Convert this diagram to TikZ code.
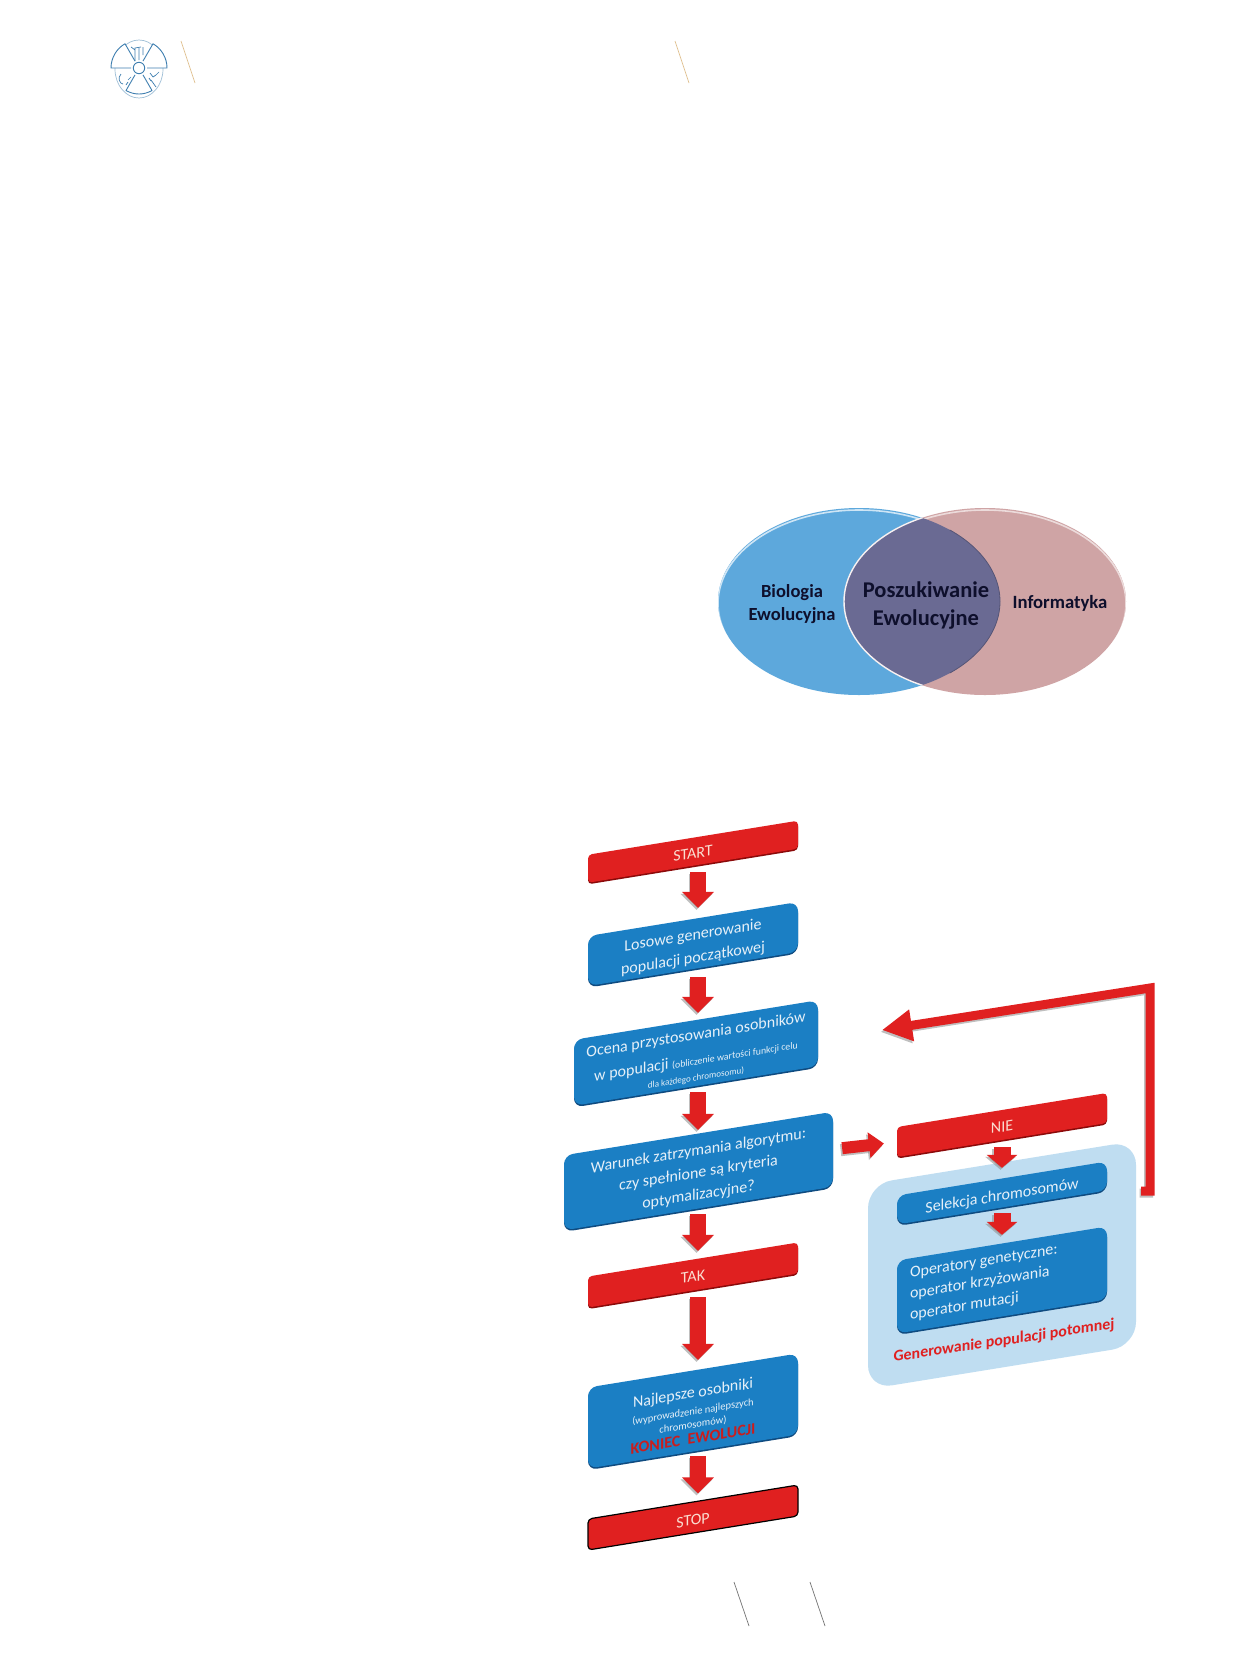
\documentclass[tikz,border=0pt]{standalone}
\usepackage{fontspec}
\setmainfont{Carlito}
\usetikzlibrary{shapes.geometric,arrows.meta,shadows,calc}
\definecolor{bluebox}{HTML}{1B7FC4}
\definecolor{blueedge}{HTML}{0F4B80}
\definecolor{redbox}{HTML}{E02020}
\definecolor{rededge}{HTML}{8B0A0A}
\definecolor{paletxt}{HTML}{E6F0F8}
\definecolor{pinktxt}{HTML}{FADCD0}
\definecolor{lightbox}{HTML}{BFDDF1}
\definecolor{venna}{HTML}{5DA8DC}
\definecolor{vennb}{HTML}{CFA4A5}
\definecolor{vennc}{HTML}{6A6A93}
\definecolor{venntxt}{HTML}{0E0F2C}
\definecolor{logoblue}{HTML}{3F7FB0}
\definecolor{tanline}{HTML}{E0C090}
\newcommand{\fs}[2]{\fontsize{#1}{#2}\selectfont}
\newcommand{\dn}[1]{\rule{0pt}{#1pt}}
\tikzset{
  flowbox/.style={rectangle,yslant=0.162,transform shape,inner sep=0pt,align=center,minimum width=#1},
  bluenode/.style={flowbox=#1,rounded corners=9pt,fill=bluebox,text=paletxt,
     general shadow={shadow xshift=0pt,shadow yshift=-1.6pt,fill=blueedge,rounded corners=9pt}},
  rednode/.style={flowbox=#1,rounded corners=4pt,fill=redbox,text=pinktxt,font=\fs{16}{18},
     general shadow={shadow xshift=0pt,shadow yshift=-1.6pt,fill=rededge,rounded corners=4pt}},
  blockshadow/.style={draw=black!45,opacity=.55,line width=#1,transform canvas={xshift=-1.5pt,yshift=-2pt}},
  blockmain/.style={draw=redbox,line width=#1},
  vennlabel/.style={inner sep=0pt,align=center,text=venntxt,font=\bfseries},
  logoline/.style={draw=logoblue,line width=.9pt},
  deco/.style={line width=.7pt}
}
% vertical block arrow along an axis coordinate: from, to, axis, shorten start, shorten end, shaft, head width, head length
\newcommand{\vblock}[8]{%
  \draw[blockshadow=#6,shorten <=#4pt,shorten >=#5pt,-{Triangle[width=#7pt,length=#8pt]}] (#1.south -| #3) -- (#2.north -| #3);
  \draw[blockmain=#6,shorten <=#4pt,shorten >=#5pt,-{Triangle[width=#7pt,length=#8pt]}] (#1.south -| #3) -- (#2.north -| #3);
}
\begin{document}
\begin{tikzpicture}[x=1pt,y=-1pt]
\useasboundingbox (0,0) rectangle (1254,1673);
\fill[white] (0,0) rectangle (1254,1673);

% header logo
\coordinate (logoc) at (139,68);
\draw[logoblue!50,line width=.7pt] (139,69) ellipse [x radius=24pt,y radius=29pt];
\foreach \a/\b/\r in {0/60/28,120/180/28,240/300/26}{
  \draw[logoline,fill=white,line join=round] ($(logoc)+(\a:8pt)$) -- ($(logoc)+(\a:\r pt)$) arc[start angle=\a,end angle=\b,radius=\r pt] -- ($(logoc)+(\b:8pt)$);
}
\draw[logoline,fill=white] (logoc) circle[radius=5.7pt];
\draw[logoblue,line width=.7pt] (135,61) -- (135,48) -- (141,47) (139,48) -- (139,60) (143,47) -- (143,55) (131,47) -- (135,50);
\draw[logoblue,line width=.7pt] (121,74) .. controls (117,78) and (120,84) .. (123,84) (128,80) -- (131,77) (126,85) -- (128,82);
\draw[logoblue,line width=.7pt] (150,73) -- (153,77) -- (156,75) -- (159,72) (151,80) -- (156,87) (149,78) -- (151,81);

% decorative slashes
\coordinate (s1a) at (181,41); \coordinate (s1b) at (195,83);
\coordinate (s2a) at (675,41); \coordinate (s2b) at (689,83);
\coordinate (s3a) at (734,1582); \coordinate (s3b) at (749,1626);
\coordinate (s4a) at (810,1582); \coordinate (s4b) at (825,1626);
\draw[deco,tanline] (s1a) -- (s1b);
\draw[deco,tanline] (s2a) -- (s2b);
\draw[deco,black!55] (s3a) -- (s3b);
\draw[deco,black!55] (s4a) -- (s4b);

% Venn
\node[ellipse,minimum width=282pt,minimum height=187pt,inner sep=0pt,fill=venna] (bio) at (859,601.5) {};
\begin{scope}
  \clip (859,601.5) ellipse [x radius=141pt,y radius=93.5pt];
  \draw[white!70!venna,line width=1.6pt] (859,603.5) ellipse [x radius=141pt,y radius=93.5pt];
\end{scope}
\node[ellipse,minimum width=282pt,minimum height=187pt,inner sep=0pt,fill=vennb] (inf) at (985,601.5) {};
\begin{scope}
  \clip (985,601.5) ellipse [x radius=141pt,y radius=93.5pt];
  \draw[white!60!vennb,line width=1.6pt] (985,603.5) ellipse [x radius=141pt,y radius=93.5pt];
\end{scope}
\begin{scope}
  \clip (859,601.5) ellipse [x radius=141pt,y radius=93.5pt];
  \fill[vennc] (985,601.5) ellipse [x radius=141pt,y radius=93.5pt];
  \draw[white!85!vennb,line width=1.4pt] (985,601.5) ellipse [x radius=141pt,y radius=93.5pt];
\end{scope}
\draw[vennc!80!black,line width=.8pt] (859,601.5) ++(50:141pt and 93.5pt) arc[start angle=50,end angle=-50,x radius=141pt,y radius=93.5pt];
\node[vennlabel,font=\bfseries\fs{18.5}{23.5}] (lbio) at (792,604) {Biologia\\Ewolucyjna};
\node[vennlabel,font=\bfseries\fs{22.5}{28}] (lpos) at (926,605) {Poszukiwanie\\Ewolucyjne};
\node[vennlabel,font=\bfseries\fs{18.7}{22}] (linf) at (1060,603) {Informatyka};

% light panel
\node[flowbox=268pt,minimum height=205pt,rounded corners=24pt,fill=lightbox] (gen) at (1002,1265) {};

% flow boxes
\node[rednode=210pt,minimum height=28pt] (start) at (693,851.7) {\dn{14}START};
\node[bluenode=210pt,minimum height=50pt,font=\fs{16}{23}] (los) at (693,944) {\dn{18}Losowe generowanie\\populacji początkowej};
\node[bluenode=244pt,minimum height=66pt,font=\fs{16}{24}] (oce) at (696,1053) {\dn{16}Ocena przystosowania osobników\\[1pt]w populacji {\fs{9.8}{12}(obliczenie wartości funkcji celu}\\[-8pt]{\fs{9}{11}dla każdego chromosomu)}};
\node[bluenode=269pt,minimum height=75pt,font=\fs{16}{22}] (war) at (698.5,1171) {\dn{16}Warunek zatrzymania algorytmu:\\czy spełnione są kryteria\\optymalizacyjne?};
\node[rednode=210pt,minimum height=31pt] (tak) at (693,1275) {\dn{14}TAK};
\node[bluenode=210pt,minimum height=81pt,font=\fs{16}{15}] (naj) at (693,1411) {\dn{20}Najlepsze osobniki\\[2pt]{\fs{10.5}{13}(wyprowadzenie najlepszych}\\[-2pt]{\fs{10.5}{13}chromosomów)}\\[1pt]{\bfseries\color{redbox!90!black}KONIEC\ \ EWOLUCJI}};
\node[flowbox=210pt,minimum height=31pt,rounded corners=4pt,fill=redbox,text=pinktxt,draw=black,line width=1.2pt,font=\fs{16}{18}] (stop) at (693,1517.5) {\dn{16}STOP};
\node[rednode=210pt,minimum height=30pt] (nie) at (1002,1125) {\dn{14}NIE};
\node[bluenode=210pt,minimum height=29pt,font=\fs{16}{18}] (sel) at (1002,1193) {\dn{18}Selekcja chromosomów};
\node[bluenode=210pt,minimum height=73pt,text width=184pt,align=flush left,font=\fs{16}{21}] (ope) at (1002,1280) {Operatory genetyczne:\\operator krzyżowania\\operator mutacji};
\node[yslant=0.15,transform shape,inner sep=0pt,text=redbox,font=\bfseries\fs{15.9}{18}] (glab) at (1004,1341) {Generowanie populacji potomnej};

% connector axes
\coordinate (axl) at (698,0);
\coordinate (axr) at (1002,0);
\vblock{start}{los}{axl}{6.3}{11}{16}{31}{16}
\vblock{los}{oce}{axl}{8}{7}{16}{31}{16}
\vblock{oce}{war}{axl}{6}{3.5}{16}{31}{16}
\vblock{war}{tak}{axl}{5.5}{8.5}{16}{31}{16}
\vblock{tak}{naj}{axl}{6.5}{10.5}{16}{31}{16}
\vblock{naj}{stop}{axl}{4.5}{8}{16}{31}{16}
\vblock{nie}{sel}{axr}{7}{10.5}{17}{30}{13}
\vblock{sel}{ope}{axr}{5.5}{8.5}{17}{30}{13}

% NIE arrow
\draw[blockshadow=12,shorten <=9pt,shorten >=13pt,-{Triangle[width=25pt,length=15pt]}] (war.east) -- (nie.west);
\draw[blockmain=12,shorten <=9pt,shorten >=13pt,-{Triangle[width=25pt,length=15pt]}] (war.east) -- (nie.west);

% feedback arrow
\coordinate (fba) at (1141,1191);
\coordinate (fbb) at (1150,1191);
\coordinate (fbc) at (1150,988);
\coordinate (fbd) at (882,1030);
\draw[blockshadow=9,line join=miter,-{Triangle[width=30pt,length=30pt]}] (fba) -- (fbb) -- (fbc) -- (fbd);
\draw[blockmain=9,line join=miter,-{Triangle[width=30pt,length=30pt]}] (fba) -- (fbb) -- (fbc) -- (fbd);
\end{tikzpicture}
\end{document}
